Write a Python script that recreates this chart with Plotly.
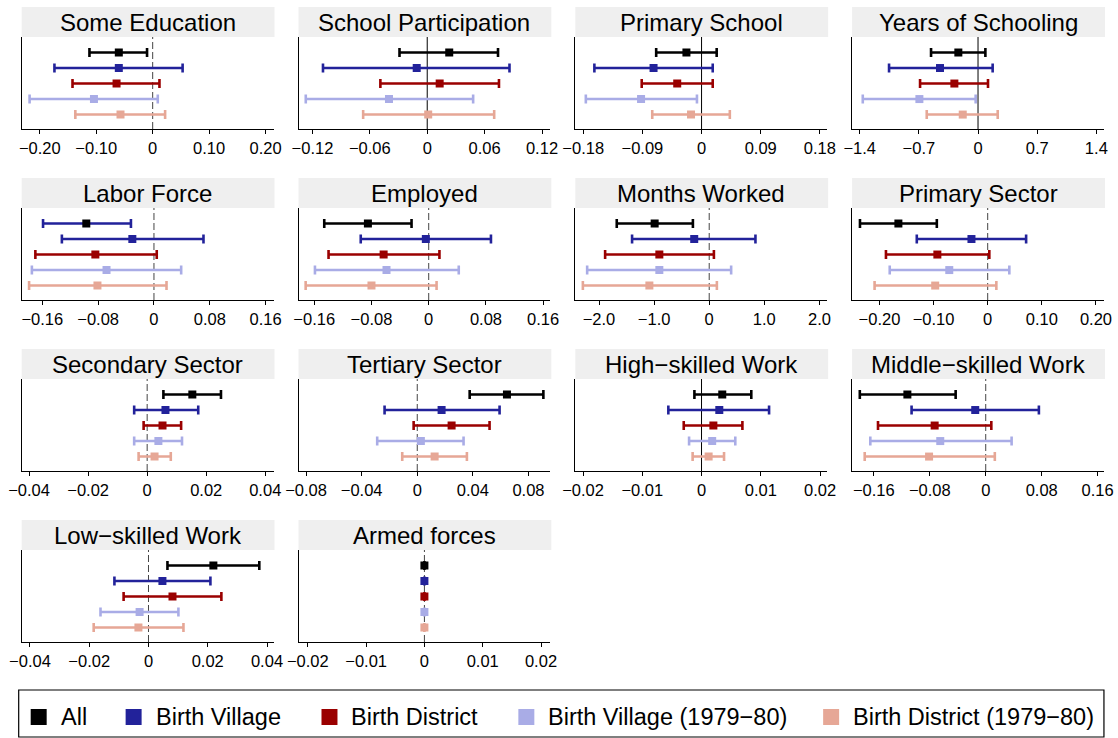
import plotly.graph_objects as go

# ---------------- data ----------------
panels = ["Some Education", "School Participation", "Primary School", "Years of Schooling",
          "Labor Force", "Employed", "Months Worked", "Primary Sector",
          "Secondary Sector", "Tertiary Sector", "High\u2212skilled Work", "Middle\u2212skilled Work",
          "Low\u2212skilled Work", "Armed forces"]

series_names = ["All", "Birth Village", "Birth District",
                "Birth Village (1979\u221280)", "Birth District (1979\u221280)"]

all_est = [-0.060, 0.023, -0.023, -0.233, -0.097, -0.085, -0.99, -0.165, 0.0153, 0.0645, 0.0035, -0.112, 0.0219, 0.0]
all_lo  = [-0.112, -0.029, -0.069, -0.556, -0.159, -0.146, -1.678, -0.236, 0.0055, 0.0377, -0.0012, -0.180, 0.0064, 0.0]
all_hi  = [-0.010, 0.074, 0.023, 0.087, -0.033, -0.024, -0.296, -0.094, 0.025, 0.0907, 0.0084, -0.043, 0.0374, 0.0]

bv_est = [-0.060, -0.011, -0.073, -0.45, -0.031, -0.004, -0.272, -0.030, 0.0062, 0.0175, 0.0030, -0.015, 0.0047, 0.0]
bv_lo  = [-0.174, -0.109, -0.163, -1.053, -0.132, -0.095, -1.40, -0.131, -0.0044, -0.0235, -0.0056, -0.106, -0.0115, 0.0]
bv_hi  = [0.053, 0.086, 0.017, 0.173, 0.071, 0.087, 0.839, 0.071, 0.0173, 0.0592, 0.0114, 0.076, 0.0209, 0.0]

bd_est = [-0.064, 0.013, -0.037, -0.28, -0.084, -0.063, -0.905, -0.093, 0.0052, 0.0247, 0.0020, -0.073, 0.0081, 0.0]
bd_lo  = [-0.142, -0.049, -0.091, -0.686, -0.170, -0.140, -1.889, -0.188, -0.0012, -0.0026, -0.0030, -0.154, -0.0084, 0.0]
bd_hi  = [0.012, 0.075, 0.017, 0.118, 0.004, 0.015, 0.085, 0.003, 0.0115, 0.052, 0.0069, 0.008, 0.0246, 0.0]

bv79_est = [-0.104, -0.040, -0.092, -0.694, -0.068, -0.059, -0.905, -0.071, 0.0038, 0.0026, 0.0018, -0.065, -0.003, 0.0]
bv79_lo  = [-0.218, -0.127, -0.176, -1.364, -0.175, -0.159, -2.215, -0.181, -0.0044, -0.0288, -0.0021, -0.165, -0.0162, 0.0]
bv79_hi  = [0.009, 0.048, -0.007, -0.028, 0.039, 0.042, 0.398, 0.040, 0.0118, 0.0333, 0.0057, 0.037, 0.0101, 0.0]

bd79_est = [-0.057, 0.001, -0.016, -0.181, -0.081, -0.080, -1.086, -0.097, 0.0025, 0.0125, 0.0012, -0.081, -0.0034, 0.0]
bd79_lo  = [-0.137, -0.067, -0.075, -0.607, -0.179, -0.172, -2.293, -0.209, -0.0029, -0.0108, -0.0015, -0.173, -0.0185, 0.0]
bd79_hi  = [0.022, 0.070, 0.043, 0.233, 0.018, 0.011, 0.139, 0.016, 0.008, 0.0357, 0.0038, 0.013, 0.0118, 0.0]

tick_vals = [
    [-0.2, -0.1, 0, 0.1, 0.2], [-0.12, -0.06, 0, 0.06, 0.12], [-0.18, -0.09, 0, 0.09, 0.18], [-1.4, -0.7, 0, 0.7, 1.4],
    [-0.16, -0.08, 0, 0.08, 0.16], [-0.16, -0.08, 0, 0.08, 0.16], [-2.0, -1.0, 0, 1.0, 2.0], [-0.2, -0.1, 0, 0.1, 0.2],
    [-0.04, -0.02, 0, 0.02, 0.04], [-0.08, -0.04, 0, 0.04, 0.08], [-0.02, -0.01, 0, 0.01, 0.02], [-0.16, -0.08, 0, 0.08, 0.16],
    [-0.04, -0.02, 0, 0.02, 0.04], [-0.02, -0.01, 0, 0.01, 0.02],
]
M = "\u2212"
tick_text = [
    [M+"0.20", M+"0.10", "0", "0.10", "0.20"], [M+"0.12", M+"0.06", "0", "0.06", "0.12"],
    [M+"0.18", M+"0.09", "0", "0.09", "0.18"], [M+"1.4", M+"0.7", "0", "0.7", "1.4"],
    [M+"0.16", M+"0.08", "0", "0.08", "0.16"], [M+"0.16", M+"0.08", "0", "0.08", "0.16"],
    [M+"2.0", M+"1.0", "0", "1.0", "2.0"], [M+"0.20", M+"0.10", "0", "0.10", "0.20"],
    [M+"0.04", M+"0.02", "0", "0.02", "0.04"], [M+"0.08", M+"0.04", "0", "0.04", "0.08"],
    [M+"0.02", M+"0.01", "0", "0.01", "0.02"], [M+"0.16", M+"0.08", "0", "0.08", "0.16"],
    [M+"0.04", M+"0.02", "0", "0.02", "0.04"], [M+"0.02", M+"0.01", "0", "0.01", "0.02"],
]

# ---------------- style / layout config ----------------
x_ranges = [
    [-0.232, 0.214], [-0.1346, 0.1287], [-0.192, 0.191], [-1.49, 1.49],
    [-0.1896, 0.1714], [-0.182, 0.170], [-2.43, 2.14], [-0.2505, 0.2148],
    [-0.0425, 0.0428], [-0.0854, 0.0957], [-0.0213, 0.0212], [-0.191, 0.169],
    [-0.0428, 0.0422], [-0.0216, 0.0216],
]
solid_zero = {1, 2, 3, 10}
colors = ["#000000", "#22229A", "#9A0000", "#A9ACE6", "#E6A796"]
row_pos = [5, 4, 3, 2, 1]
bar_color_override = {(4, 0): "#22229A"}  # Labor Force: 'All' bar drawn in blue in the original

W, H = 1118, 738
XS, XO = 0.981, 12.3  # horizontal compensation for how the page gets photographed


def px(x):
    return (x - XO) / XS / W


col_left = [21, 298, 575, 852]
pw = 252
axis_y = [129, 300, 471, 642]
ph = 92
strip_h = 30
FONT = "Liberation Sans, Arial, Helvetica, sans-serif"

series = [
    (all_est, all_lo, all_hi),
    (bv_est, bv_lo, bv_hi),
    (bd_est, bd_lo, bd_hi),
    (bv79_est, bv79_lo, bv79_hi),
    (bd79_est, bd79_lo, bd79_hi),
]

fig = go.Figure()
shapes = []
annotations = []
layout_axes = {}

for p, title in enumerate(panels):
    r, c = divmod(p, 4)
    idx = "" if p == 0 else str(p + 1)
    xa, ya = "x" + idx, "y" + idx
    x0 = px(col_left[c])
    x1 = px(col_left[c] + pw)
    yb = 1 - axis_y[r] / H
    yt = 1 - (axis_y[r] - ph) / H
    layout_axes["xaxis" + idx] = dict(
        domain=[x0, x1], anchor=ya, range=x_ranges[p], showgrid=False, zeroline=False,
        showline=True, linecolor="black", linewidth=1, ticks="outside", ticklen=4,
        tickcolor="black", tickvals=tick_vals[p], ticktext=tick_text[p],
        tickfont=dict(size=16.5, color="black", family=FONT), fixedrange=True)
    layout_axes["yaxis" + idx] = dict(
        domain=[yb, yt], anchor=xa, range=[0.07, 6.0], showgrid=False, zeroline=False,
        showline=True, linecolor="black", linewidth=1, showticklabels=False, ticks="",
        fixedrange=True)
    shapes.append(dict(type="line", xref=xa, yref=ya + " domain", x0=0, x1=0, y0=0, y1=1,
                       line=dict(color="black" if p in solid_zero else "#444444", width=1,
                                 dash="solid" if p in solid_zero else "7px,3px"),
                       layer="below"))
    ys0 = 1 - (axis_y[r] - ph) / H
    ys1 = 1 - (axis_y[r] - ph - strip_h) / H
    shapes.append(dict(type="rect", xref="paper", yref="paper", x0=x0, x1=px(col_left[c] + pw + 1),
                       y0=ys0, y1=ys1, fillcolor="#EFEFEF", line=dict(width=0), layer="below"))
    annotations.append(dict(text=title, xref="paper", yref="paper", x=(x0 + x1) / 2,
                            y=(ys0 + ys1) / 2, xanchor="center", yanchor="middle", showarrow=False,
                            font=dict(size=24, color="black", family=FONT)))
    for s, (est, lo, hi) in enumerate(series):
        bc = bar_color_override.get((p, s), colors[s])
        fig.add_trace(go.Scatter(
            x=[est[p]], y=[row_pos[s]], xaxis=xa, yaxis=ya, mode="markers",
            marker=dict(symbol="square", size=8, color=colors[s]),
            error_x=dict(type="data", symmetric=False, array=[hi[p] - est[p]],
                         arrayminus=[est[p] - lo[p]], color=bc, thickness=2.6, width=4.5),
            showlegend=False, hoverinfo="skip"))

# ---------------- legend (drawn box) ----------------
leg_y0, leg_y1 = 690, 737
shapes.append(dict(type="rect", xref="paper", yref="paper", x0=px(18), x1=px(1104),
                   y0=1 - leg_y1 / H, y1=1 - leg_y0 / H, line=dict(color="black", width=1.2),
                   fillcolor="rgba(0,0,0,0)"))
leg_sq_cx = [38, 133, 329, 526, 831]
leg_txt_x = [58, 153, 349, 546, 851]
leg_cy = 717
for s, name in enumerate(series_names):
    shapes.append(dict(type="rect", xref="paper", yref="paper",
                       x0=px(leg_sq_cx[s] - 8), x1=px(leg_sq_cx[s] + 8),
                       y0=1 - (leg_cy + 8) / H, y1=1 - (leg_cy - 8) / H,
                       fillcolor=colors[s], line=dict(width=0)))
    annotations.append(dict(text=name, xref="paper", yref="paper", x=px(leg_txt_x[s]),
                            y=1 - leg_cy / H, xanchor="left", yanchor="middle", showarrow=False,
                            font=dict(size=23.5, color="black", family=FONT)))

fig.update_layout(
    width=W, height=H, margin=dict(l=0, r=0, t=0, b=0, pad=0), autosize=False,
    paper_bgcolor="white", plot_bgcolor="white",
    shapes=shapes, annotations=annotations, showlegend=False,
    font=dict(family=FONT, color="black"),
    **layout_axes)

fig.write_html("out.html", config={"displayModeBar": False, "responsive": False},
               post_script="document.body.style.margin='0';document.body.style.overflow='hidden';")
